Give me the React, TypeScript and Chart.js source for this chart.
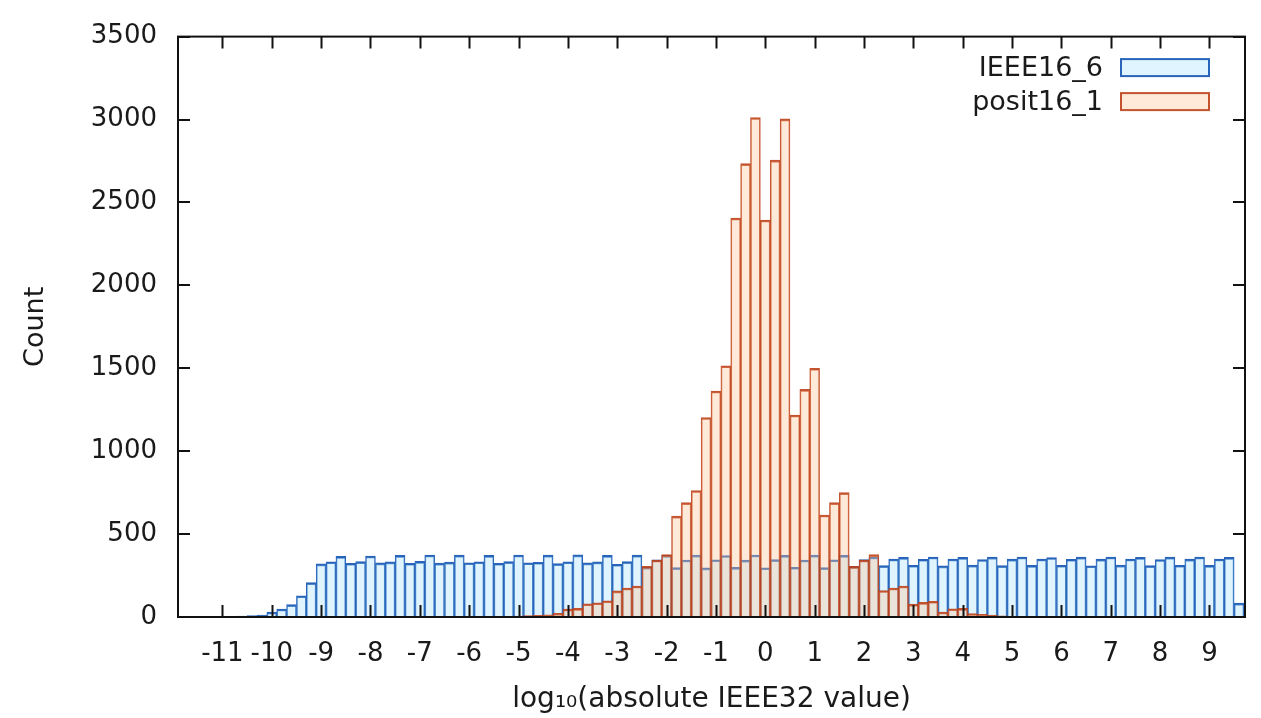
import React, { useEffect, useRef } from 'react';
import { Chart, registerables } from 'chart.js';

Chart.register(...registerables);

// ---- Data ----
const binWidth = 0.2;

// IEEE16_6 histogram: bin centres start at -10.8, step 0.2
const ieeeStart = -10.8;
const ieeeCounts = [
  3, 5, 8, 12, 30, 48, 75, 128, 207,
  320, 333, 366, 324, 334, 368, 326, 332, 372, 324, 335, 374,
  325, 331, 373, 327, 333, 372, 324, 334, 374, 327, 330, 373,
  322, 333, 375, 326, 332, 372, 318, 334, 373,
  300, 345, 372, 298, 344, 373, 296, 345, 371, 299, 343, 374,
  297, 346, 372, 300, 344, 373, 298, 345, 372,
  305, 347, 362, 310, 350, 360, 312, 348, 362, 308, 350, 360,
  313, 347, 361, 310, 349, 362, 311, 350, 359, 312, 348, 361,
  309, 349, 362, 313, 350, 360, 310, 347, 361, 312, 349, 362,
  311, 350, 360, 84,
];

// posit16_1 histogram: bin centres start at -5.4, step 0.2
const positStart = -5.4;
const positCounts = [
  3, 4, 6, 8, 10, 13, 22,
  48, 52, 80, 86, 98, 158, 175, 187, 305, 344, 376,
  608, 690, 763, 1203, 1363, 1515,
  2406, 2734, 3012, 2394, 2755, 3004,
  1218, 1373, 1500, 615, 690, 750,
  305, 344, 376, 160, 175, 187, 78, 88, 95, 30, 50, 52,
  20, 16, 11, 7, 4, 2,
];

const xTickValues = [-11, -10, -9, -8, -7, -6, -5, -4, -3, -2, -1, 0, 1, 2, 3, 4, 5, 6, 7, 8, 9];
const yTickValues = [0, 500, 1000, 1500, 2000, 2500, 3000, 3500];

const seriesNames = ['IEEE16_6', 'posit16_1'];
const xTitle = 'log\u2081\u2080(absolute IEEE32 value)';
const yTitle = 'Count';

const FONT = "'DejaVu Sans', 'Liberation Sans', sans-serif";

const toPoints = (start: number, counts: number[]) =>
  counts.map((c, i) => ({ x: Math.round((start + i * binWidth) * 10) / 10, y: c }));

const framePlugin = {
  id: 'frameTicks',
  afterDraw(chart: any) {
    const { ctx, chartArea } = chart;
    const xs = chart.scales.x;
    const ys = chart.scales.y;
    const L = chartArea.left, R = chartArea.right, T = chartArea.top, B = chartArea.bottom;
    const tl = 12;
    ctx.save();
    ctx.strokeStyle = '#111';
    ctx.lineWidth = 2;
    ctx.beginPath();
    xTickValues.forEach((v) => {
      const px = Math.round(xs.getPixelForValue(v)) + 0.5;
      ctx.moveTo(px, B); ctx.lineTo(px, B - tl);
      ctx.moveTo(px, T); ctx.lineTo(px, T + tl);
    });
    yTickValues.forEach((v) => {
      const py = Math.round(ys.getPixelForValue(v));
      ctx.moveTo(L, py); ctx.lineTo(L + tl, py);
      ctx.moveTo(R, py); ctx.lineTo(R - tl, py);
    });
    ctx.stroke();
    ctx.lineWidth = 2;
    ctx.strokeRect(L, T, R - L, B - T);
    ctx.restore();
  },
};

const legendPlugin = {
  id: 'insideLegend',
  afterDraw(chart: any) {
    const { ctx, chartArea } = chart;
    ctx.save();
    ctx.font = `27px ${FONT}`;
    ctx.textAlign = 'right';
    ctx.textBaseline = 'middle';
    chart.data.datasets.forEach((ds: any, i: number) => {
      const yc = chartArea.top + 31 + i * 34;
      const boxR = chartArea.right - 36;
      const boxL = boxR - 88;
      const h = 17;
      ctx.fillStyle = '#1a1a1a';
      ctx.fillText(ds.label, boxL - 18, yc + 1);
      ctx.fillStyle = ds.backgroundColor;
      ctx.fillRect(boxL, yc - h / 2, boxR - boxL, h);
      ctx.strokeStyle = ds.borderColor;
      ctx.lineWidth = 2;
      ctx.strokeRect(boxL, yc - h / 2, boxR - boxL, h);
    });
    ctx.restore();
  },
};

export default function App() {
  const canvasRef = useRef<HTMLCanvasElement | null>(null);

  useEffect(() => {
    if (!canvasRef.current) return;
    const chart = new Chart(canvasRef.current, {
      type: 'bar',
      data: {
        datasets: [
          {
            label: seriesNames[0],
            data: toPoints(ieeeStart, ieeeCounts),
            backgroundColor: 'rgba(170,225,255,0.38)',
            borderColor: 'rgb(40,100,185)',
            borderWidth: { top: 2, left: 1, right: 1, bottom: 0 },
            borderSkipped: false,
            barPercentage: 1,
            categoryPercentage: 1,
            grouped: false,
            order: 2,
          },
          {
            label: seriesNames[1],
            data: toPoints(positStart, positCounts),
            backgroundColor: 'rgba(255,195,150,0.35)',
            borderColor: 'rgba(190,65,25,0.9)',
            borderWidth: { top: 2, left: 1, right: 1, bottom: 0 },
            borderSkipped: false,
            barPercentage: 1,
            categoryPercentage: 1,
            grouped: false,
            order: 1,
          },
        ],
      },
      options: {
        animation: false,
        responsive: false,
        maintainAspectRatio: false,
        devicePixelRatio: 1,
        layout: { padding: { left: 0, right: 16, top: 19, bottom: 0 } },
        plugins: {
          legend: { display: false },
          tooltip: { enabled: false },
          title: { display: false },
        },
        scales: {
          x: {
            type: 'linear',
            min: -11.9,
            max: 9.72,
            offset: false,
            grid: { display: false, drawTicks: false },
            border: { display: false },
            afterBuildTicks: (s: any) => {
              s.ticks = xTickValues.map((v) => ({ value: v }));
            },
            afterFit: (s: any) => {
              s.height = 101;
            },
            ticks: {
              autoSkip: false,
              maxRotation: 0,
              padding: 22,
              color: '#1a1a1a',
              font: { family: FONT, size: 26 },
              callback: (v: any) => String(v),
            },
            title: {
              display: true,
              text: xTitle,
              color: '#1a1a1a',
              font: { family: FONT, size: 28 },
              padding: { top: 0, bottom: 1 },
            },
          },
          y: {
            min: 0,
            max: 3500,
            grid: { display: false, drawTicks: false },
            border: { display: false },
            afterBuildTicks: (s: any) => {
              s.ticks = yTickValues.map((v) => ({ value: v }));
            },
            afterFit: (s: any) => {
              s.width = 178;
            },
            ticks: {
              padding: 21,
              color: '#1a1a1a',
              font: { family: FONT, size: 26 },
              callback: (v: any) => String(v),
            },
            title: {
              display: true,
              text: yTitle,
              color: '#1a1a1a',
              font: { family: FONT, size: 27 },
              padding: { top: 20, bottom: 0 },
            },
          },
        },
      },
      plugins: [framePlugin, legendPlugin],
    } as any);
    return () => chart.destroy();
  }, []);

  return (
    <div style={{ position: 'fixed', left: 0, top: 0, width: 1261, height: 718, background: '#fff' }}>
      <canvas ref={canvasRef} width={1261} height={718} style={{ width: 1261, height: 718 }} />
    </div>
  );
}
